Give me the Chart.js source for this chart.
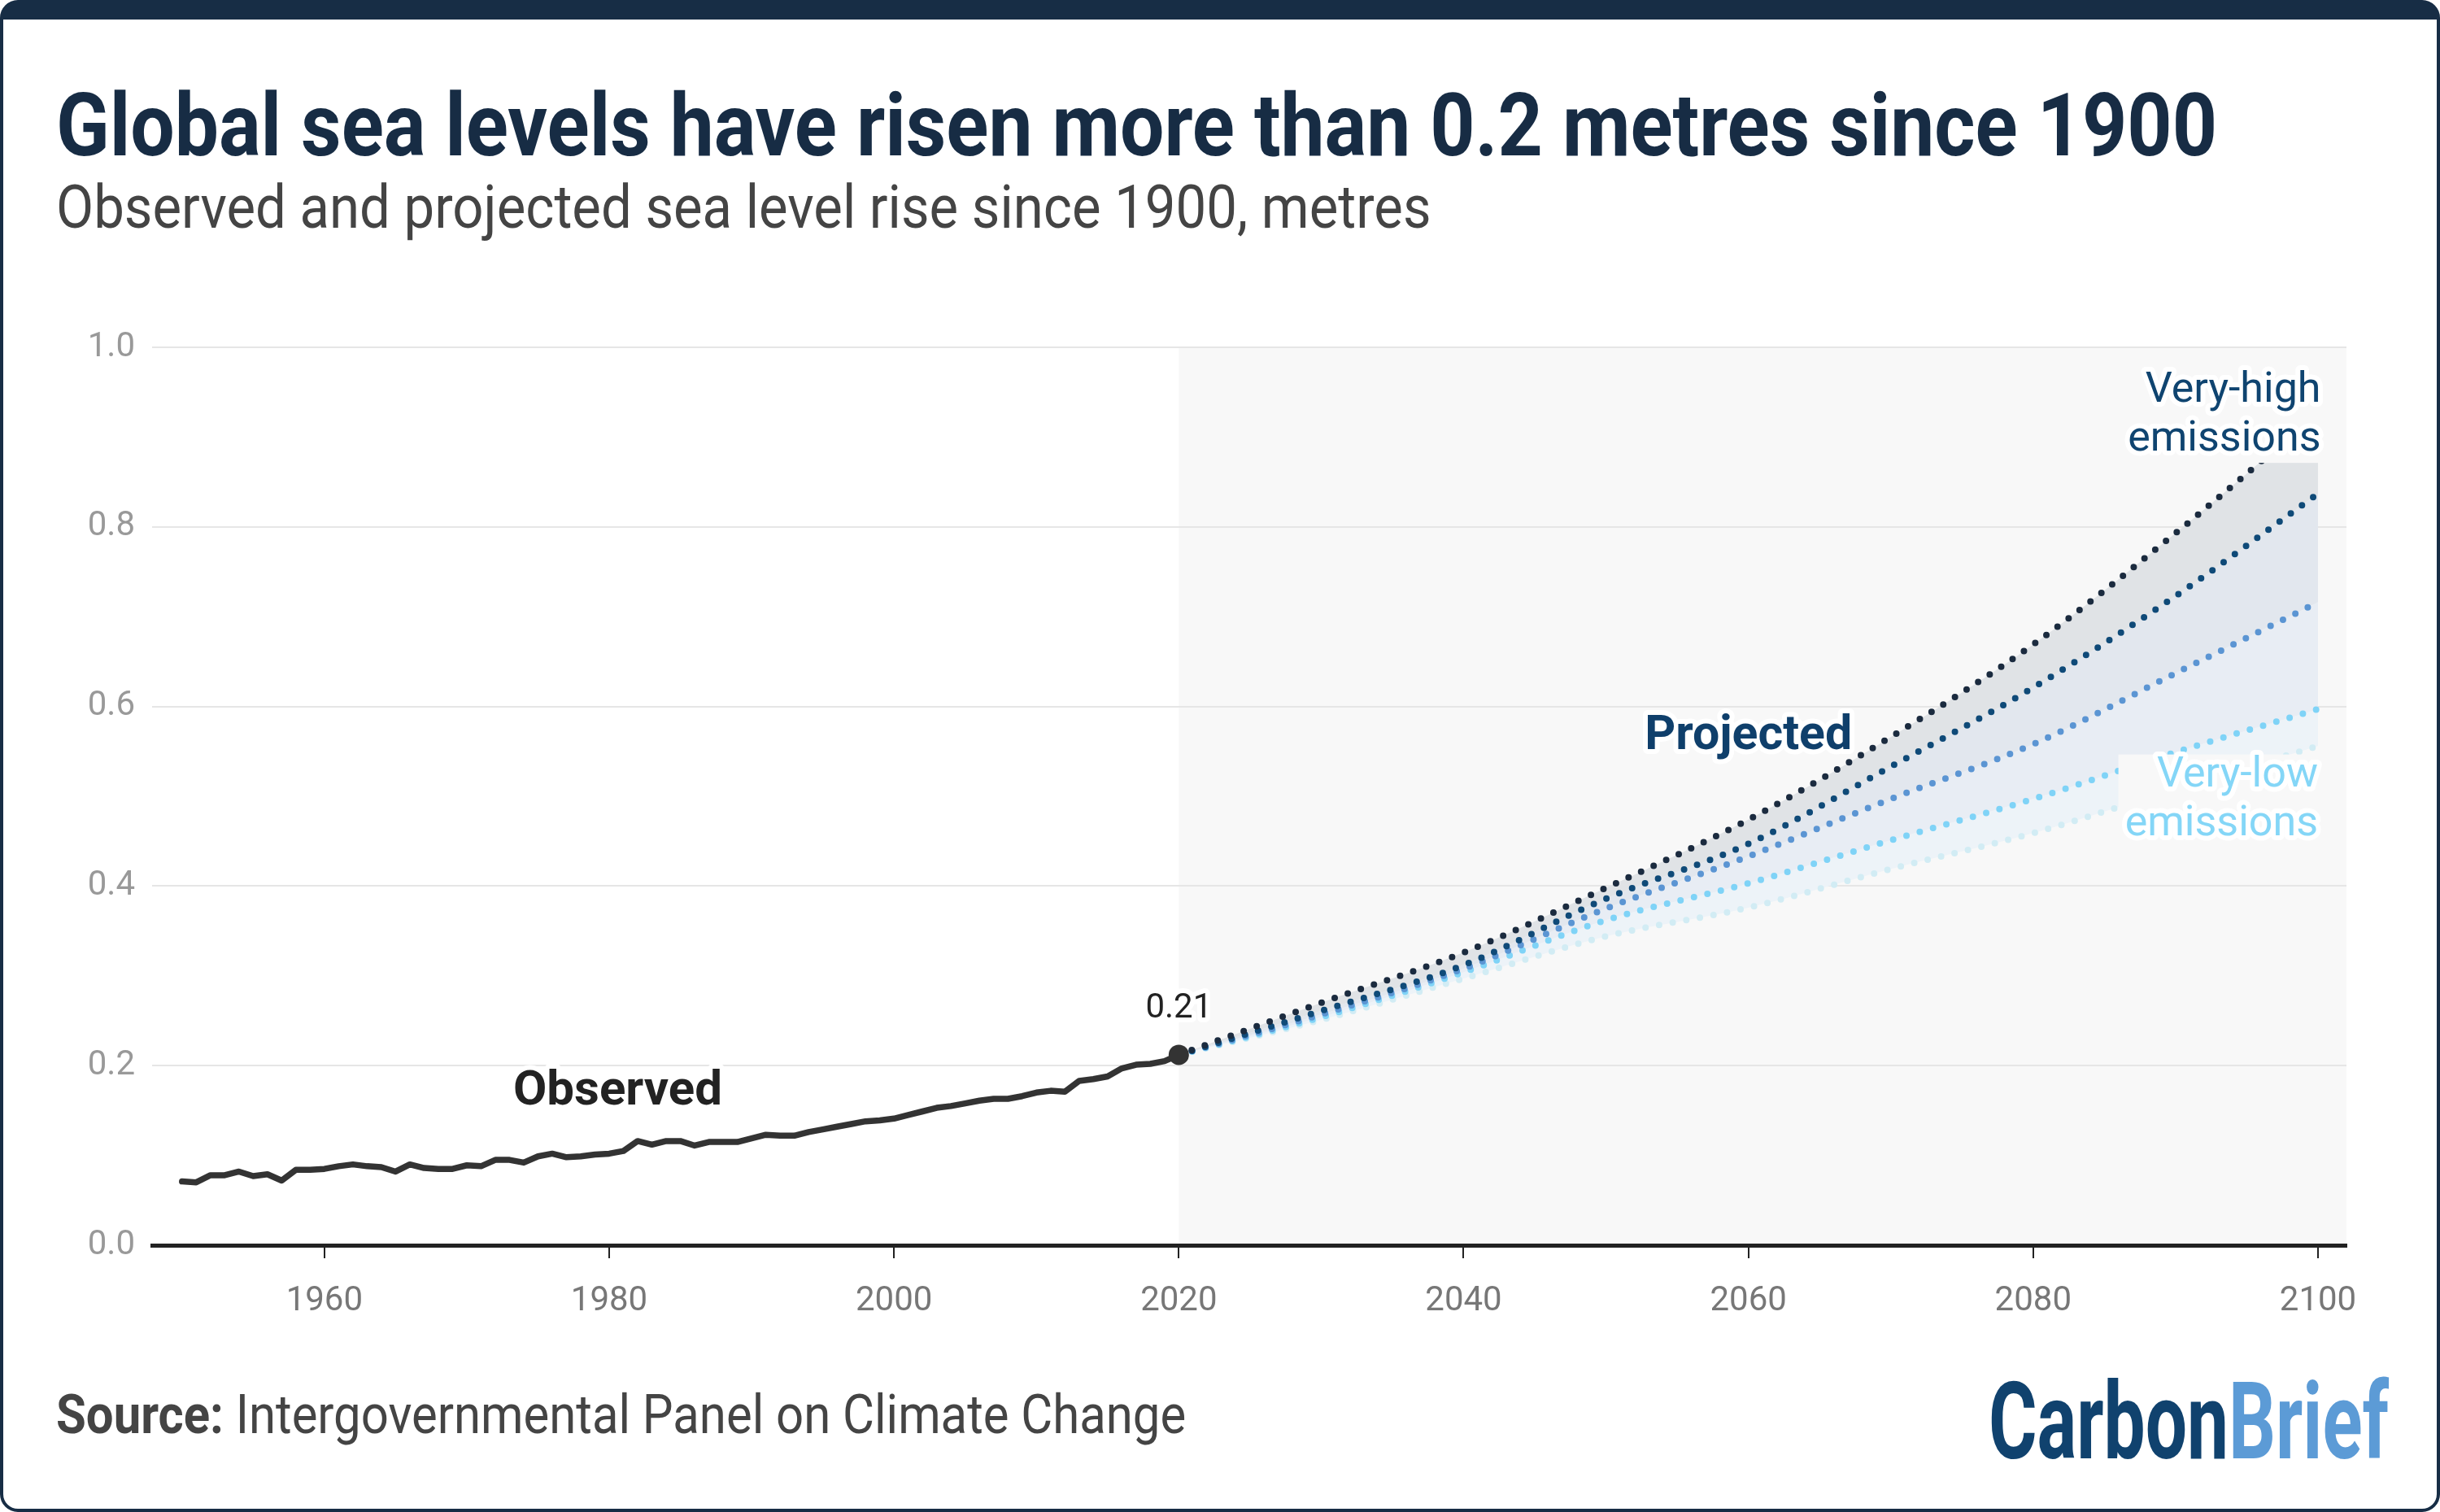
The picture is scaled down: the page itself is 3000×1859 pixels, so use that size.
<!DOCTYPE html>
<html>
<head>
<meta charset="utf-8">
<title>Global sea levels</title>
<script src="https://cdn.jsdelivr.net/npm/chart.js@4.4.1/dist/chart.umd.min.js"></script>
<style>
  html, body { margin: 0; padding: 0; background: #fff; }
  .page { position: relative; width: 3000px; height: 1859px; overflow: hidden; font-family: Roboto, sans-serif; }
  .frame { position: absolute; left: 0; top: 0; width: 3000px; height: 1859px; box-sizing: border-box;
           border: 4px solid #172d45; border-top-width: 24px; border-radius: 22px; pointer-events: none; }
  canvas { position: absolute; left: 0; top: 0; }
  .txt { position: absolute; white-space: nowrap; line-height: 1; transform-origin: 0 50%; }
  #title { left: 69px; top: 100px; font-size: 108px; font-weight: 700; color: #172c44; }
  #subtitle { left: 69px; top: 217px; font-size: 75px; color: #444; }
  #source { left: 69px; top: 1706px; font-size: 67px; color: #444; }
  #logo { left: 2445px; top: 1682px; font-size: 132px; font-weight: 700; color: #10426e; }
  #logo span { color: #5c9bd6; }
</style>
</head>
<body>
<div class="page">
  <canvas id="chart" width="3000" height="1859"></canvas>
  <div id="title" class="txt">Global sea levels have risen more than 0.2 metres since 1900</div>
  <div id="subtitle" class="txt">Observed and projected sea level rise since 1900, metres</div>
  <div id="source" class="txt"><b>Source:</b> Intergovernmental Panel on Climate Change</div>
  <div id="logo" class="txt">Carbon<span>Brief</span></div>
  <div class="frame"></div>
</div>
<script>
// ---- data ----
const obsYears = [
  1950, 1951, 1952, 1953, 1954, 1955, 1956, 1957, 1958, 1959,
  1960, 1961, 1962, 1963, 1964, 1965, 1966, 1967, 1968, 1969,
  1970, 1971, 1972, 1973, 1974, 1975, 1976, 1977, 1978, 1979,
  1980, 1981, 1982, 1983, 1984, 1985, 1986, 1987, 1988, 1989,
  1990, 1991, 1992, 1993, 1994, 1995, 1996, 1997, 1998, 1999,
  2000, 2001, 2002, 2003, 2004, 2005, 2006, 2007, 2008, 2009,
  2010, 2011, 2012, 2013, 2014, 2015, 2016, 2017, 2018, 2019,
  2020
];
const obsLevel = [
  0.071, 0.070, 0.078, 0.078, 0.082, 0.077, 0.079, 0.072, 0.084, 0.084,
  0.085, 0.088, 0.090, 0.088, 0.087, 0.082, 0.090, 0.086, 0.085, 0.085,
  0.089, 0.088, 0.095, 0.095, 0.092, 0.099, 0.102, 0.098, 0.099, 0.101,
  0.102, 0.105, 0.116, 0.112, 0.116, 0.116, 0.111, 0.115, 0.115, 0.115,
  0.119, 0.123, 0.122, 0.122, 0.126, 0.129, 0.132, 0.135, 0.138, 0.139,
  0.141, 0.145, 0.149, 0.153, 0.155, 0.158, 0.161, 0.163, 0.163, 0.166,
  0.170, 0.172, 0.171, 0.183, 0.185, 0.188, 0.197, 0.201, 0.202, 0.205,
  0.212
];
const projYears = [2020, 2030, 2040, 2050, 2060, 2070, 2080, 2090, 2100];
const veryHigh = [0.212, 0.270, 0.326, 0.398, 0.474, 0.566, 0.669, 0.793, 0.927];
const high = [0.212, 0.261, 0.312, 0.386, 0.447, 0.533, 0.621, 0.723, 0.837];
const intermediate = [0.212, 0.257, 0.308, 0.375, 0.433, 0.497, 0.558, 0.637, 0.716];
const low = [0.212, 0.254, 0.304, 0.362, 0.403, 0.451, 0.497, 0.549, 0.597];
const veryLow = [0.212, 0.251, 0.297, 0.344, 0.376, 0.419, 0.459, 0.508, 0.556];
const xTicks = [1960, 1980, 2000, 2020, 2040, 2060, 2080, 2100];
const yTicks = [0, 0.2, 0.4, 0.6, 0.8, 1.0];

// squeeze the html texts to the width of the original (narrower) face
[['title', 2657], ['subtitle', 1691], ['source', 1389], ['logo', 492]].forEach(([id, w]) => {
  const el = document.getElementById(id);
  el.style.transform = `scaleX(${w / el.offsetWidth})`;
});

// annotations, anchored in data units
const notes = [
  { lines: ['Observed'], x: 1980.6, y: 0.170, align: 'center', color: '#222', weight: '700', size: 60 },
  { lines: ['0.21'], x: 2020, y: 0.263, align: 'center', color: '#222', weight: '400', size: 42 },
  { lines: ['Projected'], x: 2060, y: 0.566, align: 'center', color: '#0f3f6b', weight: '700', size: 59 },
  { lines: ['Very-high', 'emissions'], x: 2100.2, y: 0.951, align: 'right', color: '#0f4470', weight: '400', size: 52, box: true },
  { lines: ['Very-low', 'emissions'], x: 2100, y: 0.523, align: 'right', color: '#84d6f7', weight: '400', size: 52, box: true }
];

const projBg = {
  id: 'projBg',
  beforeDraw(chart) {
    const { ctx, chartArea, scales: { x } } = chart;
    const left = x.getPixelForValue(projYears[0]);
    ctx.save();
    ctx.fillStyle = '#f8f8f8';
    ctx.fillRect(left, chartArea.top, chartArea.right - left, chartArea.bottom - chartArea.top);
    ctx.restore();
  }
};

const noteLabels = {
  id: 'noteLabels',
  afterDatasetsDraw(chart) {
    const { ctx, scales: { x, y } } = chart;
    const lh = 60;
    ctx.save();
    ctx.textBaseline = 'middle';
    notes.forEach(n => {
      const px = x.getPixelForValue(n.x);
      const py = y.getPixelForValue(n.y);
      ctx.font = `${n.weight} ${n.size}px Roboto`;
      ctx.textAlign = n.align;
      if (n.box) {
        const w = Math.max(...n.lines.map(t => ctx.measureText(t).width));
        ctx.fillStyle = '#f8f8f8';
        ctx.fillRect(px - w - 8, py - lh / 2 + 4, w + 12, lh * n.lines.length - 6);
      }
      n.lines.forEach((t, i) => {
        ctx.lineJoin = 'round';
        ctx.strokeStyle = '#fff';
        ctx.lineWidth = 12;
        ctx.strokeText(t, px, py + i * lh);
        ctx.fillStyle = n.color;
        ctx.fillText(t, px, py + i * lh);
      });
    });
    ctx.restore();
  }
};

const projLine = (values, color, fillTarget, fillColor, order) => ({
  data: projYears.map((yr, i) => ({ x: yr, y: values[i] })),
  borderColor: color,
  borderWidth: 8,
  borderDash: [0, 17],
  borderCapStyle: 'round',
  pointRadius: 0,
  cubicInterpolationMode: 'monotone',
  fill: fillTarget === null ? false : fillTarget,
  backgroundColor: fillColor,
  order
});

new Chart(document.getElementById('chart'), {
  type: 'line',
  data: {
    datasets: [
      {
        data: obsYears.map((yr, i) => ({ x: yr, y: obsLevel[i] })),
        borderColor: '#333',
        borderWidth: 7.5,
        borderJoinStyle: 'round',
        borderCapStyle: 'round',
        pointRadius: ctx => ctx.dataIndex === obsYears.length - 1 ? 12.5 : 0,
        pointBackgroundColor: '#333',
        pointBorderWidth: 0,
        fill: false,
        order: 0
      },
      projLine(veryLow, '#d2ecf4', null, 'transparent', 5),
      projLine(low, '#7fd3f7', 1, '#edf3f8', 4),
      projLine(intermediate, '#5b95d3', 2, '#e8edf4', 3),
      projLine(high, '#0f4a78', 3, '#e2e7ee', 2),
      projLine(veryHigh, '#1b2b3f', 4, '#e0e3e6', 1)
    ]
  },
  options: {
    responsive: false,
    animation: false,
    devicePixelRatio: 1,
    layout: { padding: { left: 67, right: 115, top: 427, bottom: 228 } },
    plugins: {
      legend: { display: false },
      tooltip: { enabled: false },
      filler: { drawTime: 'beforeDatasetsDraw' }
    },
    scales: {
      x: {
        type: 'linear',
        min: 1947.9,
        max: 2102,
        afterBuildTicks: s => { s.ticks = xTicks.map(v => ({ value: v })); },
        afterFit: s => { s.height = 100; },
        grid: { drawOnChartArea: false, color: '#222', lineWidth: 2, tickLength: 16 },
        border: { color: '#222', width: 5 },
        ticks: {
          color: '#777',
          font: { family: 'Roboto', size: 42 },
          padding: 28,
          maxRotation: 0,
          callback: v => String(v)
        }
      },
      y: {
        min: 0,
        max: 1,
        afterBuildTicks: s => { s.ticks = yTicks.map(v => ({ value: v })); },
        afterFit: s => { s.width = 120; },
        grid: { color: '#e6e6e6', lineWidth: 2, drawTicks: false },
        border: { display: false },
        ticks: {
          color: '#999',
          font: { family: 'Roboto', size: 42 },
          padding: 21,
          callback: v => v.toFixed(1)
        }
      }
    }
  },
  plugins: [projBg, noteLabels]
});
</script>
</body>
</html>
